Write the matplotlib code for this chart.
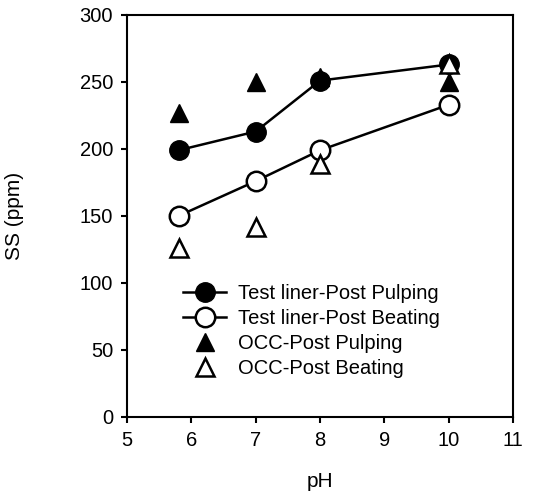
import matplotlib
matplotlib.use("Agg")
import matplotlib.pyplot as plt

ph = [5.8, 7, 8, 10]
tl_pulping = [199, 213, 251, 263]
tl_beating = [150, 176, 199, 233]
occ_pulping = [227, 250, 254, 250]
occ_beating = [126, 142, 189, 263]

plt.rcParams['font.family'] = ['Liberation Sans', 'DejaVu Sans']

fig = plt.figure(figsize=(5.5, 4.97), dpi=100)
ax = fig.add_axes([0.231, 0.161, 0.702, 0.809])

ax.plot(ph, tl_pulping, '-o', color='black', mfc='black', mec='black', ms=14, lw=1.8,
        label='Test liner-Post Pulping', zorder=3)
ax.plot(ph, tl_beating, '-o', color='black', mfc='white', mec='black', ms=14, mew=1.8, lw=1.8,
        label='Test liner-Post Beating', zorder=3)
ax.plot(ph, occ_pulping, '^', color='black', mfc='black', mec='black', ms=13, ls='none',
        label='OCC-Post Pulping', zorder=4)
ax.plot(ph, occ_beating, '^', color='black', mfc='white', mec='black', ms=13, mew=1.8, ls='none',
        label='OCC-Post Beating', zorder=4)

ax.set_xlim(5, 11)
ax.set_ylim(0, 300)
ax.set_xticks(range(5, 12))
ax.set_yticks(range(0, 301, 50))
ax.tick_params(direction='out', length=4, width=1.5, labelsize=14.5, pad=6, top=False, right=False)
for s in ax.spines.values():
    s.set_linewidth(1.5)

ax.set_xlabel('pH', fontsize=15, labelpad=16)
ax.set_ylabel('SS (ppm)', fontsize=15, labelpad=40)

ax.legend(loc='upper left', bbox_to_anchor=(0.12, 0.356), frameon=False, fontsize=14.5,
          handlelength=2.1, handletextpad=0.6, labelspacing=0.3, borderpad=0)

fig.savefig('out.png', dpi=100)
